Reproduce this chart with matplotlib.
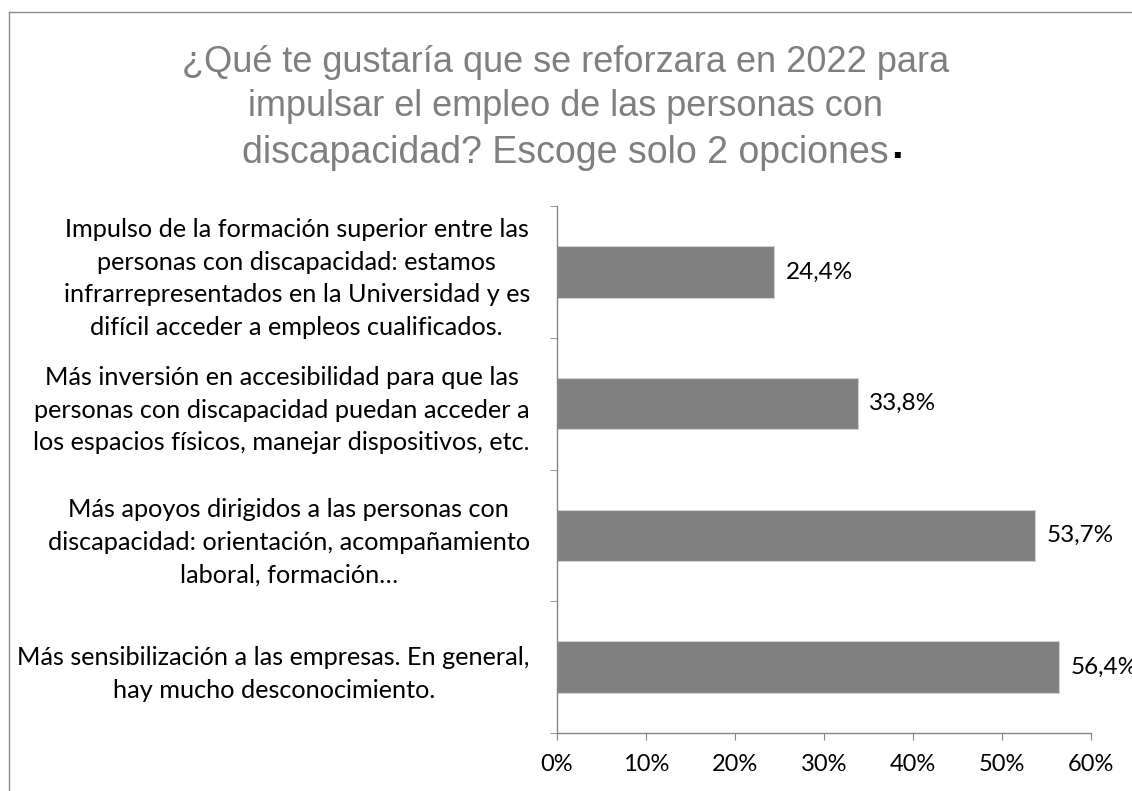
import matplotlib.pyplot as plt
from matplotlib.lines import Line2D
from matplotlib.ticker import FixedLocator

# survey answers, bottom to top as they appear in the chart
categories = [
    "Más sensibilización a las empresas. En general,\nhay mucho desconocimiento.",
    "Más apoyos dirigidos a las personas con\ndiscapacidad: orientación, acompañamiento\nlaboral, formación…",
    "Más inversión en accesibilidad para que las\npersonas con discapacidad puedan acceder a\nlos espacios físicos, manejar dispositivos, etc.",
    "Impulso de la formación superior entre las\npersonas con discapacidad: estamos\ninfrarrepresentados en la Universidad y es\ndifícil acceder a empleos cualificados.",
]
values = [56.4, 53.7, 33.8, 24.4]
value_labels = ["56,4%", "53,7%", "33,8%", "24,4%"]
xticks = [0, 10, 20, 30, 40, 50, 60]
xtick_labels = ["0%", "10%", "20%", "30%", "40%", "50%", "60%"]

W, H = 1132, 791
fig = plt.figure(figsize=(W / 100, H / 100), dpi=100)
ax = fig.add_axes([557 / W, 1 - 733 / H, (1091 - 557) / W, (733 - 206) / H])

label_font = "Lato"
title_font = "Liberation Sans"
fs = 17.5

ypos = list(range(len(categories)))
ax.barh(ypos, values, height=0.39, color="#808080", edgecolor="#d0d0d0", linewidth=0.8)
for y, v, lab in zip(ypos, values, value_labels):
    ax.text(v + 1.3, y, lab, va="center", ha="left", fontsize=fs, family=label_font,
            clip_on=False)

ax.set_xlim(0, 60)
ax.set_ylim(-0.5, len(categories) - 0.5)

ax.set_xticks(xticks)
ax.set_xticklabels(xtick_labels, fontsize=17, family=label_font)
ax.tick_params(axis="x", length=5, color="#868686", pad=10)

ax.set_yticks(ypos)
ax.set_yticklabels(categories, fontsize=18.2, family=label_font, multialignment="center",
                   linespacing=1.5)
ax.tick_params(axis="y", which="major", length=0, pad=19.5)
ax.yaxis.set_minor_locator(FixedLocator([i - 0.5 for i in range(len(categories) + 1)]))
ax.tick_params(axis="y", which="minor", length=5, color="#868686")

for s in ["top", "right"]:
    ax.spines[s].set_visible(False)
for s in ["left", "bottom"]:
    ax.spines[s].set_color("#868686")
    ax.spines[s].set_linewidth(1)

# title, three lines in gray with a black full stop
tx = 566 / W
fig.text(tx, 1 - 62 / H, "¿Qué te gustaría que se reforzara en 2022 para",
         ha="center", va="center", fontsize=26, color="#7f7f7f", family=title_font)
fig.text(tx, 1 - 106 / H, "impulsar el empleo de las personas con",
         ha="center", va="center", fontsize=26, color="#7f7f7f", family=title_font)
t3 = fig.text(565 / W, 1 - 153 / H, "discapacidad? Escoge solo 2 opciones",
              ha="center", va="center", fontsize=27, color="#7f7f7f", family=title_font)
ax.annotate(".", xy=(1, 0.12), xycoords=t3, xytext=(2, 0), textcoords="offset points",
            ha="left", va="bottom", fontsize=30, color="black", weight="bold",
            family=title_font, annotation_clip=False)

# chart area border (left and top only visible)
fig.add_artist(Line2D([8.5 / W, 8.5 / W], [0, 1 - 12 / H], color="#8c8c8c", lw=1))
fig.add_artist(Line2D([8.5 / W, 1], [1 - 12 / H, 1 - 12 / H], color="#8c8c8c", lw=1))

fig.savefig("out.png", dpi=100)
